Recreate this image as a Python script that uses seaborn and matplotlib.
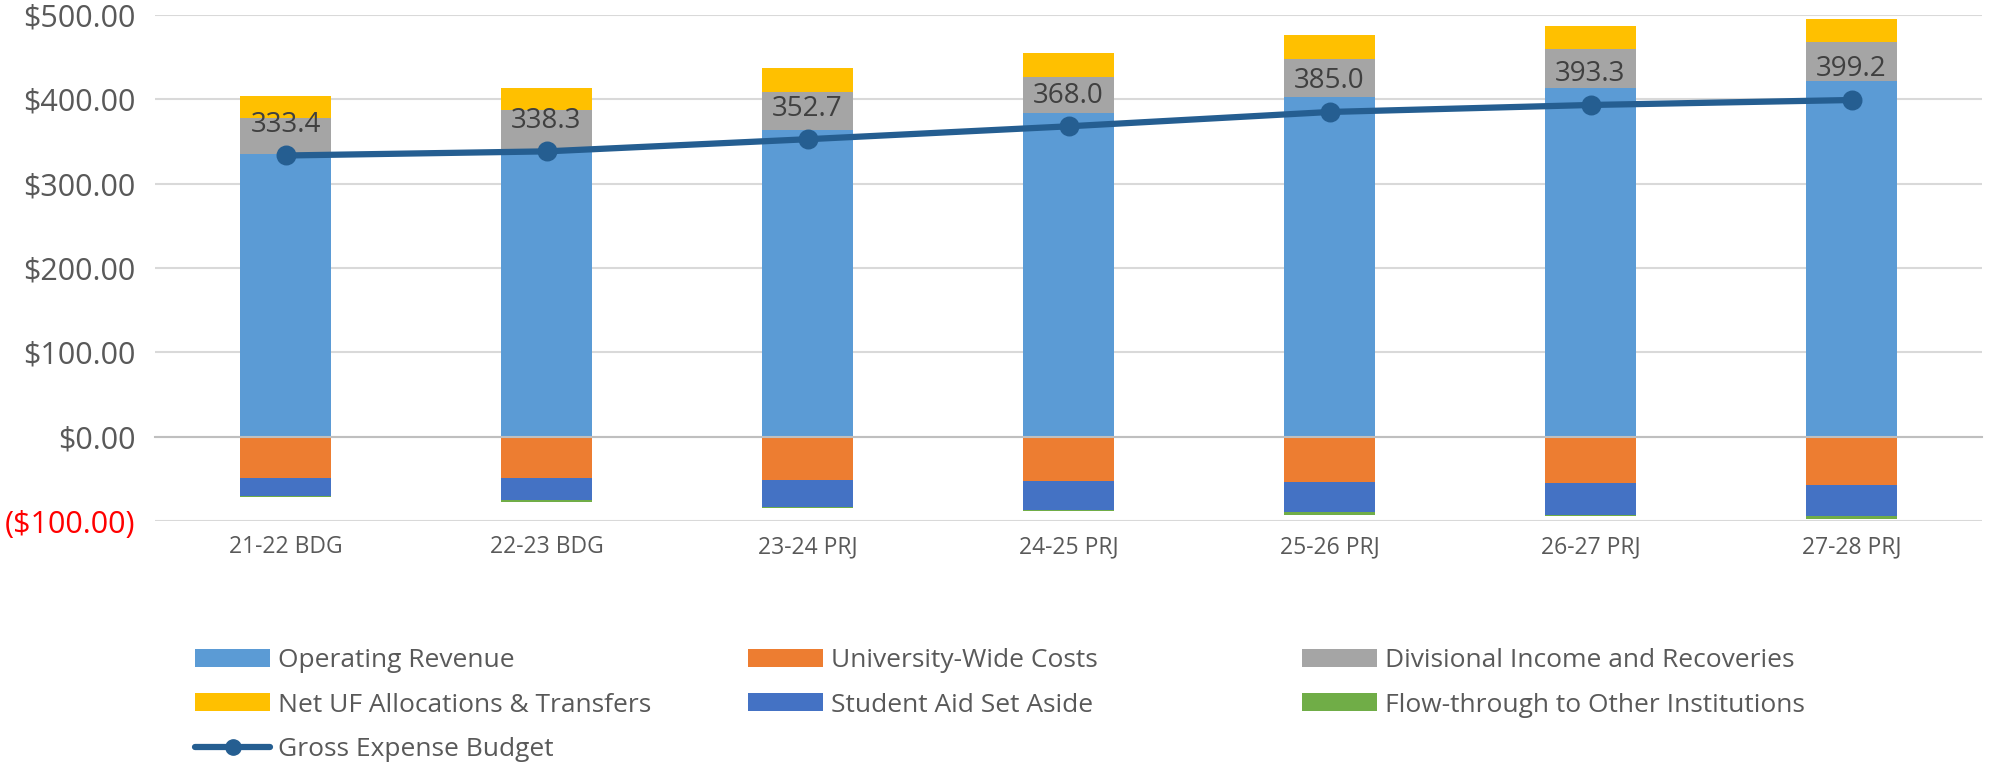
import matplotlib
matplotlib.use("Agg")
import matplotlib.pyplot as plt
import matplotlib.patches as mpatches
import matplotlib.lines as mlines
import seaborn as sns
import numpy as np

categories = ["21-22 BDG", "22-23 BDG", "23-24 PRJ", "24-25 PRJ", "25-26 PRJ", "26-27 PRJ", "27-28 PRJ"]
operating_revenue = [335.0, 339.0, 363.9, 383.3, 402.8, 413.9, 421.8]
divisional_income = [42.4, 47.9, 45.2, 43.7, 45.6, 45.6, 45.7]
net_uf_alloc = [26.6, 27.0, 27.8, 27.8, 27.4, 27.8, 27.7]
university_wide = [-49.0, -49.0, -51.0, -52.2, -53.4, -55.4, -57.0]
student_aid = [-21.1, -25.9, -32.7, -34.3, -36.2, -37.8, -37.4]
flow_through = [-0.9, -3.1, -1.2, -1.5, -2.8, -1.2, -3.2]
gross_expense = [333.4, 338.3, 352.7, 368.0, 385.0, 393.3, 399.2]
y_ticks = [-100, 0, 100, 200, 300, 400, 500]

sns.set_theme(style="white")
plt.rcParams['font.family'] = ['Open Sans', 'DejaVu Sans']

C_OPREV = "#5B9BD5"
C_UNIV = "#ED7D31"
C_DIV = "#A5A5A5"
C_NETUF = "#FFC000"
C_AID = "#4472C4"
C_FLOW = "#70AD47"
C_LINE = "#255E91"
TXT = "#595959"

fig = plt.figure(figsize=(20.11, 7.70), dpi=100)
ax = fig.add_axes([155/2011, 1-521/770, (1982-155)/2011, (521-15)/770])

W = 0.35
pos_bottom = np.zeros(len(categories))
series_pos = [(operating_revenue, C_OPREV), (divisional_income, C_DIV), (net_uf_alloc, C_NETUF)]
for vals, col in series_pos:
    sns.barplot(x=categories, y=vals, bottom=pos_bottom.copy(), color=col, width=W,
                ax=ax, saturation=1, linewidth=0, zorder=2)
    pos_bottom = pos_bottom + np.array(vals)

neg_bottom = np.zeros(len(categories))
series_neg = [(university_wide, C_UNIV), (student_aid, C_AID), (flow_through, C_FLOW)]
for vals, col in series_neg:
    sns.barplot(x=categories, y=vals, bottom=neg_bottom.copy(), color=col, width=W,
                ax=ax, saturation=1, linewidth=0, zorder=2)
    neg_bottom = neg_bottom + np.array(vals)

sns.pointplot(x=categories, y=gross_expense, color=C_LINE, ax=ax, markers="o",
              linestyles="-", linewidth=4.5, markersize=11, zorder=5)

for i, v in enumerate(gross_expense):
    ax.annotate(f"{v:.1f}", (i, v), xytext=(0, 22), textcoords="offset points",
                ha="center", va="center", fontsize=20, color="#404040", zorder=6)

ax.set_ylim(-100, 500)
ax.set_xlim(-0.5, len(categories) - 0.5)
ax.set_yticks(y_ticks)
labels = []
for t in y_ticks:
    if t < 0:
        labels.append(f"(${abs(t):.2f})")
    else:
        labels.append(f"${t:.2f}")
ax.set_yticklabels(labels)
for lab, t in zip(ax.get_yticklabels(), y_ticks):
    lab.set_color("#FF0000" if t < 0 else TXT)
ax.tick_params(axis="y", length=0, pad=14, labelsize=22)
ax.yaxis.grid(True, color="#D9D9D9", linewidth=1.5, zorder=0)
ax.set_axisbelow(True)

# category axis at zero
ax.spines["bottom"].set_position(("data", 0))
ax.spines["bottom"].set_color("#BFBFBF")
ax.spines["bottom"].set_linewidth(1.5)
for s in ["top", "right", "left"]:
    ax.spines[s].set_visible(False)
ax.set_xticks(range(len(categories)))
ax.set_xticklabels(categories)
ax.tick_params(axis="x", length=0, pad=71, labelsize=16.5, labelcolor=TXT)
ax.set_xticks(np.arange(len(categories) + 1) - 0.5, minor=True)
ax.tick_params(axis="x", which="minor", length=6, width=1.5, color="#BFBFBF", direction="out")
ax.set_xlabel("")
ax.set_ylabel("")

# legend
hl = dict(handlelength=2.85, handleheight=0.66, handletextpad=0.3, frameon=False,
          fontsize=19, labelspacing=0.74, borderpad=0, borderaxespad=0)
def patch(c, l):
    return mpatches.Patch(facecolor=c, edgecolor="none", label=l)
col1 = [patch(C_OPREV, "Operating Revenue"), patch(C_NETUF, "Net UF Allocations & Transfers"),
        mlines.Line2D([], [], color=C_LINE, lw=4.5, marker="o", markersize=11, label="Gross Expense Budget")]
col2 = [patch(C_UNIV, "University-Wide Costs"), patch(C_AID, "Student Aid Set Aside")]
col3 = [patch(C_DIV, "Divisional Income and Recoveries"), patch(C_FLOW, "Flow-through to Other Institutions")]
for handles, x in [(col1, 195), (col2, 748), (col3, 1302)]:
    lg = fig.legend(handles=handles, loc="upper left", bbox_to_anchor=(x/2011, 1-648/770), **hl)
    for t in lg.get_texts():
        t.set_color(TXT)

fig.savefig("out.png", dpi=100)
